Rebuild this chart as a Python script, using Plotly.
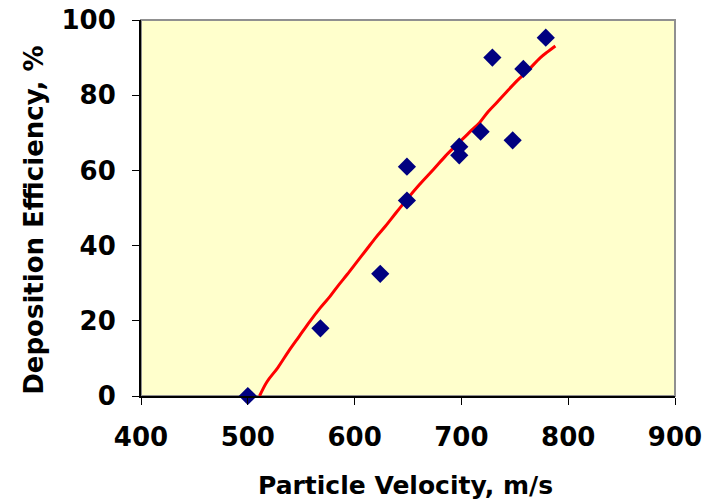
import plotly.graph_objects as go

# Data points (particle velocity m/s, deposition efficiency %)
velocity = [500, 568, 624, 649, 649, 698, 698, 718, 729, 748, 758, 779]
efficiency = [0, 18, 32.5, 52, 61, 64, 66.3, 70.3, 90, 68, 87, 95.3]

# Fitted trend curve (traced)
fit_x = [511, 518, 528, 538, 548, 558, 568, 577, 585, 593, 602, 611, 620, 629,
         639, 649, 661, 674, 685, 696, 707, 717, 725, 733, 742, 752, 762, 774, 781, 788]
fit_y = [0, 3.8, 7.5, 11.8, 15.8, 19.8, 23.5, 26.5, 29.5, 32.3, 35.6, 38.9, 42.2, 45.2,
         48.8, 52.3, 56.3, 60.3, 63.8, 66.9, 70, 72.7, 75.6, 78, 80.8, 83.8, 86.5, 90, 91.6, 93.1]

x_ticks = [400, 500, 600, 700, 800, 900]
y_ticks = [0, 20, 40, 60, 80, 100]

x_title = "Particle Velocity, m/s"
y_title = "Deposition Efficiency, %"

font_family = "DejaVu Sans"

fig = go.Figure()
fig.add_trace(go.Scatter(
    x=fit_x, y=fit_y, mode="lines",
    line=dict(color="#FF0000", width=3, shape="spline"),
    showlegend=False, hoverinfo="skip",
))
fig.add_trace(go.Scatter(
    x=velocity, y=efficiency, mode="markers",
    marker=dict(symbol="diamond", size=14, color="#000080"),
    showlegend=False, cliponaxis=False,
))

fig.add_shape(type="rect", xref="paper", yref="paper", x0=0, y0=0, x1=1, y1=1,
              line=dict(color="#909090", width=2), layer="below")

fig.add_annotation(text="<b>" + x_title + "</b>", xref="paper", yref="paper",
                   x=0.495, y=0, yshift=-89, showarrow=False,
                   font=dict(size=25, family=font_family, color="black"),
                   xanchor="center", yanchor="middle")
fig.add_annotation(text="<b>" + y_title + "</b>", xref="paper", yref="paper",
                   x=0, xshift=-107, y=0.466, showarrow=False, textangle=-90,
                   font=dict(size=26, family=font_family, color="black"),
                   xanchor="center", yanchor="middle")

fig.update_layout(
    width=706, height=500,
    margin=dict(l=141, r=31, t=20, b=104),
    paper_bgcolor="white",
    plot_bgcolor="#FFFFCC",
    font=dict(family=font_family, color="black"),
    xaxis=dict(
        range=[400, 900], tickvals=x_ticks, ticktext=[str(v) for v in x_ticks],
        showgrid=False, zeroline=False, showline=True, linecolor="black", linewidth=2,
        ticks="outside", ticklen=7, tickcolor="black", tickwidth=1,
        tickfont=dict(family=font_family, size=26, color="black", weight="bold"),
        ticklabelstandoff=10, automargin=False,
    ),
    yaxis=dict(
        range=[0, 100], tickvals=y_ticks, ticktext=[str(v) for v in y_ticks],
        showgrid=False, zeroline=False, showline=True, linecolor="black", linewidth=2,
        ticks="outside", ticklen=7, tickcolor="black", tickwidth=1,
        tickfont=dict(family=font_family, size=26, color="black", weight="bold"),
        ticklabelstandoff=11, automargin=False,
    ),
)

fig.write_html("out.html", config={"displayModeBar": False},
               post_script="document.body.style.margin='0';")
